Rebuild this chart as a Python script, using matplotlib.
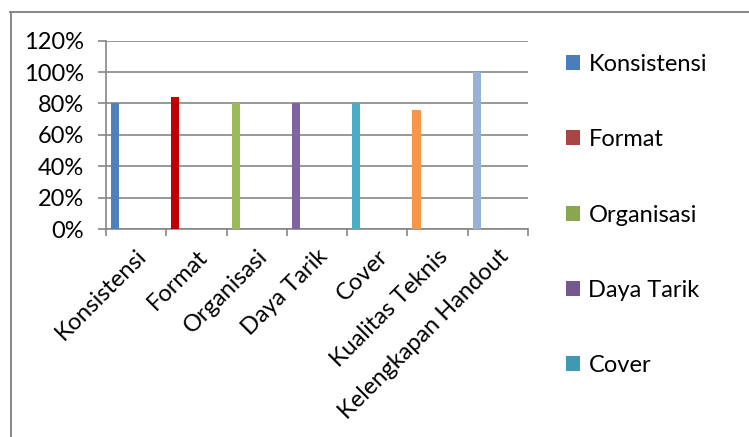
import matplotlib.pyplot as plt
from matplotlib.patches import Patch
from matplotlib.lines import Line2D
from matplotlib.ticker import PercentFormatter

# data
kategori = ["Konsistensi", "Format", "Organisasi", "Daya Tarik", "Cover",
            "Kualitas Teknis", "Kelengkapan Handout"]
nilai = [80, 84, 80, 80, 80, 76, 100]
warna_bar = ["#4F81BD", "#C00000", "#9BBB59", "#8064A2", "#4BACC6",
             "#F79646", "#95B3D7"]
warna_legend = ["#4A7EBB", "#A94543", "#8AA64F", "#73598F", "#3F9AB1"]
y_ticks = [0, 20, 40, 60, 80, 100, 120]

abu = "#868686"
plt.rcParams['font.family'] = ['Lato', 'DejaVu Sans']

fig = plt.figure(figsize=(7.49, 4.37), dpi=100)
ax = fig.add_axes([106 / 749, 1 - 229 / 437, (528 - 106) / 749, (229 - 40.7) / 437])

posisi = [i + 0.15 for i in range(len(kategori))]
ax.bar(posisi, nilai, width=0.135, color=warna_bar, zorder=3)

ax.set_xlim(0, len(kategori))
ax.set_ylim(0, 120)
ax.set_yticks(y_ticks)
ax.yaxis.set_major_formatter(PercentFormatter(decimals=0))
ax.grid(axis='y', color=abu, linewidth=1.2, zorder=0)

# tick marks on category borders, labels near the middle
ax.set_xticks(range(len(kategori) + 1))
ax.set_xticklabels([])
ax.set_xticks([i + 0.5 for i in range(len(kategori))], minor=True)
ax.set_xticklabels(kategori, minor=True, rotation=45, ha='right',
                   rotation_mode='anchor', fontsize=17, color='black')
ax.tick_params(axis='x', which='major', direction='out', length=5, width=1.2, color=abu)
ax.tick_params(axis='x', which='minor', length=0, pad=12)
ax.tick_params(axis='y', direction='out', length=6, width=1.2, color=abu,
               labelsize=17, pad=10)

for s in ['top', 'right']:
    ax.spines[s].set_visible(False)
for s in ['left', 'bottom']:
    ax.spines[s].set_color(abu)
    ax.spines[s].set_linewidth(1.2)

# legend (only five entries are visible in the crop)
handles = [Patch(facecolor=c, edgecolor='none') for c in warna_legend]
fig.legend(handles, kategori[:5], loc='upper left',
           bbox_to_anchor=(566 / 749, 1 - 54 / 437), frameon=False,
           fontsize=17, handlelength=0.6, handleheight=0.6,
           handletextpad=0.35, labelspacing=2.3, borderpad=0, borderaxespad=0)

# chart frame (cropped at the right and bottom)
fig.add_artist(Line2D([10 / 749, 1], [1 - 12 / 437, 1 - 12 / 437],
                      transform=fig.transFigure, color=abu, linewidth=1.4))
fig.add_artist(Line2D([10.5 / 749, 10.5 / 749], [0, 1 - 12 / 437],
                      transform=fig.transFigure, color=abu, linewidth=1.4))

fig.savefig("out.png", dpi=100)
